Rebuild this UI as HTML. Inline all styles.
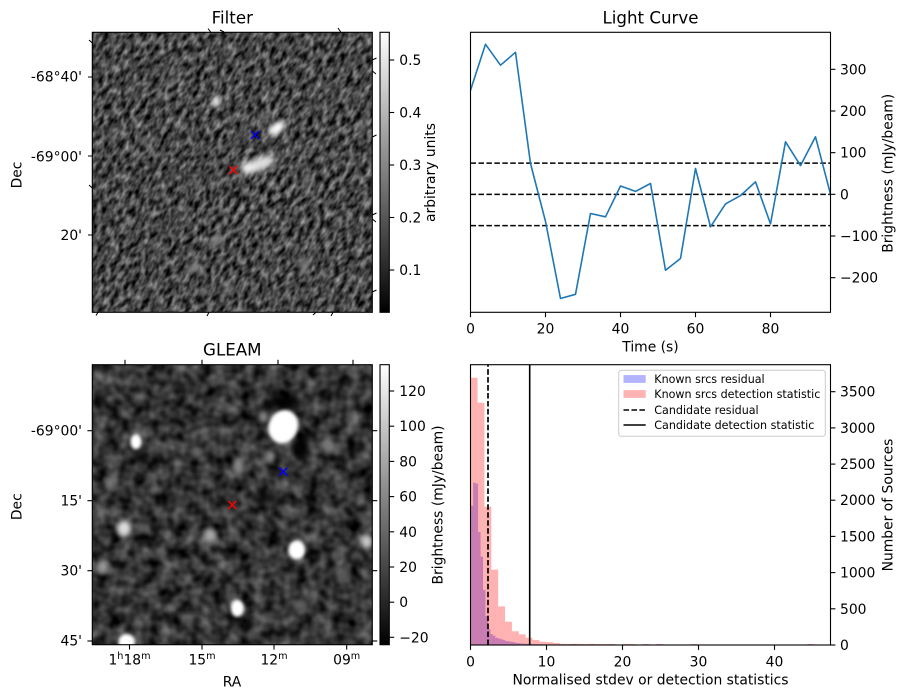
<!DOCTYPE html>
<html><head><meta charset="utf-8">
<style>
html,body{margin:0;padding:0;background:#fff;}
svg{display:block;}
text{font-family:"DejaVu Sans","Liberation Sans",sans-serif;fill:#000;}
</style></head>
<body>
<svg width="907" height="699" viewBox="0 0 907 699" xmlns="http://www.w3.org/2000/svg">
<defs>
  <clipPath id="clipF"><rect x="92.3" y="32.3" width="280" height="280"/></clipPath>
  <clipPath id="clipG"><rect x="92.3" y="364.7" width="280" height="280"/></clipPath>
  <clipPath id="clipL"><rect x="470.5" y="32.3" width="360" height="280"/></clipPath>
  <filter id="noiseF" x="0" y="0" width="1" height="1" color-interpolation-filters="sRGB">
    <feTurbulence type="fractalNoise" baseFrequency="0.11 0.2" numOctaves="2" seed="7"/>
    <feColorMatrix type="matrix" values="0.95 0 0 0 -0.2  0.95 0 0 0 -0.2  0.95 0 0 0 -0.2  0 0 0 0 1"/>
  </filter>
  <filter id="noiseG" x="0" y="0" width="1" height="1" color-interpolation-filters="sRGB">
    <feTurbulence type="fractalNoise" baseFrequency="0.075" numOctaves="2" seed="3"/>
    <feColorMatrix type="matrix" values="0.65 0 0 0 -0.12  0.65 0 0 0 -0.12  0.65 0 0 0 -0.12  0 0 0 0 1"/>
  </filter>
  <filter id="b1" x="-100%" y="-100%" width="300%" height="300%"><feGaussianBlur stdDeviation="1.6"/></filter>
  <filter id="b2" x="-100%" y="-100%" width="300%" height="300%"><feGaussianBlur stdDeviation="2.6"/></filter>
  <filter id="b4" x="-100%" y="-100%" width="300%" height="300%"><feGaussianBlur stdDeviation="4"/></filter>
  <linearGradient id="gray" x1="0" y1="1" x2="0" y2="0">
    <stop offset="0" stop-color="#000"/><stop offset="1" stop-color="#fff"/>
  </linearGradient>
</defs>

<!-- ================= FILTER PANEL ================= -->
<text x="232.3" y="23.5" font-size="16.67" text-anchor="middle">Filter</text>
<g clip-path="url(#clipF)">
  <rect x="92.3" y="32.3" width="280" height="280" fill="#454545"/>
  <g transform="rotate(-62 232 172)">
    <rect x="-20" y="-60" width="520" height="520" filter="url(#noiseF)"/>
  </g>
  <g filter="url(#b2)">
    <ellipse cx="216.7" cy="101.7" rx="3.5" ry="6.5" fill="#fff"/>
    <ellipse cx="276.7" cy="128.3" rx="10" ry="5" fill="#fff" transform="rotate(-30 276.7 128.3)"/>
    <ellipse cx="260" cy="164" rx="16" ry="6.5" fill="#ddd" transform="rotate(-20 260 164)"/>
    <ellipse cx="248" cy="168" rx="7" ry="6" fill="#eee"/>
    <ellipse cx="264" cy="117" rx="4" ry="3" fill="#999"/>
    <ellipse cx="216.7" cy="240" rx="4" ry="8" fill="#888" transform="rotate(25 216.7 240)"/>
    <ellipse cx="193" cy="268" rx="4" ry="7" fill="#808080" transform="rotate(30 193 268)"/>
    <ellipse cx="361.7" cy="126.7" rx="3" ry="5" fill="#888"/>
    <ellipse cx="173" cy="80" rx="3" ry="6" fill="#808080" transform="rotate(25 173 80)"/>
    <ellipse cx="143" cy="140" rx="3" ry="5" fill="#808080"/>
    <ellipse cx="306.7" cy="180" rx="3" ry="6" fill="#808080" transform="rotate(25 306.7 180)"/>
    <ellipse cx="305" cy="265" rx="4" ry="7" fill="#808080" transform="rotate(30 305 265)"/>
    <ellipse cx="230" cy="287" rx="3" ry="6" fill="#808080" transform="rotate(25 230 287)"/>
  </g>
</g>
<rect x="92.3" y="32.3" width="280" height="280" fill="none" stroke="#000" stroke-width="1.1"/>
<!-- tilted WCS ticks -->
<g stroke="#000" stroke-width="1">
  <line x1="208" y1="28.5" x2="211" y2="32.5"/><line x1="220" y1="30" x2="224" y2="32"/><line x1="338" y1="28" x2="341" y2="32.5"/>
  <line x1="96" y1="315.5" x2="98" y2="312.3"/><line x1="207" y1="316" x2="209" y2="312.3"/><line x1="313" y1="315" x2="316" y2="312.3"/><line x1="331" y1="316" x2="333" y2="312.3"/>
  <line x1="89" y1="40" x2="92.3" y2="43"/><line x1="88" y1="77" x2="92.3" y2="77"/><line x1="88" y1="156" x2="92.3" y2="156"/><line x1="89" y1="185" x2="92.3" y2="188"/><line x1="88" y1="235" x2="92.3" y2="235"/>
  <line x1="372.3" y1="60" x2="376.5" y2="58"/><line x1="372.3" y1="71" x2="376" y2="74"/><line x1="372.3" y1="137" x2="376.5" y2="135"/><line x1="372.3" y1="215" x2="376.5" y2="213"/><line x1="372.3" y1="219" x2="376" y2="222"/><line x1="372.3" y1="292" x2="376.5" y2="290"/>
</g>
<text x="82" y="81.7" font-size="13.89" text-anchor="end">-68°40'</text>
<text x="82" y="161.7" font-size="13.89" text-anchor="end">-69°00'</text>
<text x="82" y="240" font-size="13.89" text-anchor="end">20'</text>
<text transform="translate(21.7,175) rotate(-90)" font-size="13.89" text-anchor="middle">Dec</text>
<!-- markers -->
<g stroke-width="1.5">
  <path d="M229.3 166 L237.3 174 M229.3 174 L237.3 166" stroke="#ff0000"/>
  <path d="M251 131 L259 139 M251 139 L259 131" stroke="#0000ff"/>
</g>
<!-- colorbar -->
<rect x="380" y="32.3" width="9.3" height="280" fill="url(#gray)" stroke="#000" stroke-width="1.1"/>
<g stroke="#000" stroke-width="1.1">
  <line x1="389.3" y1="60" x2="394.2" y2="60"/><line x1="389.3" y1="112.5" x2="394.2" y2="112.5"/>
  <line x1="389.3" y1="165" x2="394.2" y2="165"/><line x1="389.3" y1="217.5" x2="394.2" y2="217.5"/>
  <line x1="389.3" y1="270" x2="394.2" y2="270"/>
</g>
<g font-size="13.89">
  <text x="399.3" y="65">0.5</text><text x="399.3" y="117.5">0.4</text><text x="399.3" y="170">0.3</text>
  <text x="399.3" y="222.5">0.2</text><text x="399.3" y="275">0.1</text>
</g>
<text transform="translate(435,172.5) rotate(-90)" font-size="13.89" text-anchor="middle">arbitrary units</text>

<!-- ================= LIGHT CURVE ================= -->
<text x="650.5" y="23.5" font-size="16.67" text-anchor="middle">Light Curve</text>
<g clip-path="url(#clipL)">
  <g stroke="#000" stroke-width="1.5" stroke-dasharray="5.55 2.4" fill="none">
    <line x1="470.5" y1="163.1" x2="830.5" y2="163.1"/>
    <line x1="470.5" y1="194.33" x2="830.5" y2="194.33"/>
    <line x1="470.5" y1="225.6" x2="830.5" y2="225.6"/>
  </g>
  <polyline fill="none" stroke="#1f77b4" stroke-width="1.6" stroke-linejoin="round" stroke-linecap="square"
   points="470.5,90.2 485.5,44.3 500.5,65.2 515.5,52.3 530.5,163.5 545.5,221.4 560.5,298.5 575.5,294.3 590.5,213.5 605.5,216.8 620.5,186 635.5,191.4 650.5,183.5 665.5,270.2 680.5,258.5 695.5,168.5 710.5,226.8 725.5,203.9 740.5,195.6 755.5,181.8 770.5,223.9 785.5,141.8 800.5,165.6 815.5,136.8 830.5,194.3"/>
</g>
<rect x="470.5" y="32.3" width="360" height="280" fill="none" stroke="#000" stroke-width="1.1"/>
<g stroke="#000" stroke-width="1.1">
  <line x1="470.5" y1="312.3" x2="470.5" y2="317.2"/><line x1="545.5" y1="312.3" x2="545.5" y2="317.2"/>
  <line x1="620.5" y1="312.3" x2="620.5" y2="317.2"/><line x1="695.5" y1="312.3" x2="695.5" y2="317.2"/>
  <line x1="770.5" y1="312.3" x2="770.5" y2="317.2"/>
  <line x1="830.5" y1="69.33" x2="835.4" y2="69.33"/><line x1="830.5" y1="111" x2="835.4" y2="111"/>
  <line x1="830.5" y1="152.67" x2="835.4" y2="152.67"/><line x1="830.5" y1="194.33" x2="835.4" y2="194.33"/>
  <line x1="830.5" y1="236" x2="835.4" y2="236"/><line x1="830.5" y1="277.67" x2="835.4" y2="277.67"/>
</g>
<g font-size="13.89" text-anchor="middle">
  <text x="470.5" y="333.3">0</text><text x="545.5" y="333.3">20</text><text x="620.5" y="333.3">40</text>
  <text x="695.5" y="333.3">60</text><text x="770.5" y="333.3">80</text>
</g>
<g font-size="13.89">
  <text x="840" y="74.3">300</text><text x="840" y="116">200</text><text x="840" y="157.7">100</text>
  <text x="840" y="199.3">0</text><text x="840" y="241">−100</text><text x="840" y="282.7">−200</text>
</g>
<text x="650.5" y="351.5" font-size="13.89" text-anchor="middle">Time (s)</text>
<text transform="translate(892.5,173.3) rotate(-90)" font-size="13.89" text-anchor="middle">Brightness (mJy/beam)</text>

<!-- ================= GLEAM ================= -->
<text x="232.3" y="355.5" font-size="16.67" text-anchor="middle">GLEAM</text>
<g clip-path="url(#clipG)">
  <rect x="92.3" y="364.7" width="280" height="280" fill="#333"/>
  <rect x="92.3" y="364.7" width="280" height="280" filter="url(#noiseG)"/>
  <!-- dark patches -->
  <g filter="url(#b4)" fill="#000">
    <ellipse cx="285" cy="402" rx="16" ry="8"/>
    <ellipse cx="302" cy="447" rx="7" ry="14"/>
    <ellipse cx="265" cy="410" rx="6" ry="7"/>
    <ellipse cx="143" cy="458" rx="8" ry="7" opacity="0.7"/>
    <ellipse cx="265" cy="498" rx="10" ry="8" opacity="0.7"/>
    <ellipse cx="243" cy="627" rx="8" ry="6" opacity="0.7"/>
    <ellipse cx="180" cy="500" rx="8" ry="6" opacity="0.5"/>
  </g>
  <!-- faint blobs -->
  <g filter="url(#b2)">
    <ellipse cx="263.3" cy="416.7" rx="5" ry="6" fill="#888"/>
    <ellipse cx="270" cy="456.7" rx="5" ry="6" fill="#888"/>
    <ellipse cx="238.3" cy="465" rx="5" ry="8" fill="#8a8a8a"/>
    <ellipse cx="328.3" cy="446.7" rx="6" ry="7" fill="#777"/>
    <ellipse cx="110" cy="483.3" rx="5" ry="7" fill="#777"/>
    <ellipse cx="141.7" cy="528.3" rx="4" ry="5" fill="#666"/>
    <ellipse cx="196.7" cy="451.7" rx="6" ry="6" fill="#666"/>
    <ellipse cx="300" cy="605" rx="7" ry="6" fill="#5e5e5e"/>
    <ellipse cx="343" cy="575" rx="6" ry="6" fill="#5a5a5a"/>
    <ellipse cx="102.7" cy="566.7" rx="6" ry="7" fill="#999"/>
    <ellipse cx="210" cy="535" rx="6" ry="7" fill="#aaa"/>
    <ellipse cx="366.7" cy="541.7" rx="6" ry="7" fill="#ccc"/>
    <ellipse cx="124" cy="528.3" rx="7" ry="8" fill="#ddd"/>
  </g>
  <!-- bright blobs -->
  <g filter="url(#b1)" fill="#fff">
    <ellipse cx="283.3" cy="426.7" rx="14.5" ry="17" transform="rotate(20 283.3 426.7)"/>
    <ellipse cx="136" cy="441.7" rx="5.5" ry="7.5"/>
    <ellipse cx="296.7" cy="550" rx="8.5" ry="9.5"/>
    <ellipse cx="237.3" cy="608.3" rx="6.5" ry="8.5"/>
    <ellipse cx="126.7" cy="642" rx="8.5" ry="8"/>
  </g>
</g>
<rect x="92.3" y="364.7" width="280" height="280" fill="none" stroke="#000" stroke-width="1.1"/>
<g stroke="#000" stroke-width="1.1">
  <line x1="125" y1="364.7" x2="125" y2="359.8"/><line x1="202" y1="364.7" x2="202" y2="359.8"/>
  <line x1="278" y1="364.7" x2="278" y2="359.8"/><line x1="353" y1="364.7" x2="353" y2="359.8"/>
  <line x1="129.5" y1="644.7" x2="129.5" y2="649.6"/><line x1="202" y1="644.7" x2="202" y2="649.6"/>
  <line x1="274" y1="644.7" x2="274" y2="649.6"/><line x1="346.7" y1="644.7" x2="346.7" y2="649.6"/>
  <line x1="92.3" y1="430.7" x2="87.4" y2="430.7"/><line x1="92.3" y1="500.7" x2="87.4" y2="500.7"/>
  <line x1="92.3" y1="570.7" x2="87.4" y2="570.7"/><line x1="92.3" y1="641" x2="87.4" y2="641"/>
  <line x1="372.3" y1="430.7" x2="377.2" y2="430.7"/><line x1="372.3" y1="500.7" x2="377.2" y2="500.7"/>
  <line x1="372.3" y1="570.7" x2="377.2" y2="570.7"/><line x1="372.3" y1="641" x2="377.2" y2="641"/>
</g>
<g font-size="13.89" text-anchor="end">
  <text x="82" y="435.5">-69°00'</text><text x="82" y="505.5">15'</text>
  <text x="82" y="575.5">30'</text><text x="82" y="645.5">45'</text>
</g>
<g font-size="13.89" text-anchor="middle">
  <text x="129.5" y="664.3">1<tspan font-size="9.7" dy="-5.5">h</tspan><tspan dy="5.5">18</tspan><tspan font-size="9.7" dy="-5.5">m</tspan></text>
  <text x="202" y="664.3">15<tspan font-size="9.7" dy="-5.5">m</tspan></text>
  <text x="274" y="664.3">12<tspan font-size="9.7" dy="-5.5">m</tspan></text>
  <text x="346.7" y="664.3">09<tspan font-size="9.7" dy="-5.5">m</tspan></text>
</g>
<text x="232" y="686.5" font-size="13.89" text-anchor="middle">RA</text>
<text transform="translate(21.7,506.7) rotate(-90)" font-size="13.89" text-anchor="middle">Dec</text>
<g stroke-width="1.5">
  <path d="M228.3 501 L236.3 509 M228.3 509 L236.3 501" stroke="#ff0000"/>
  <path d="M279.3 467.7 L287.3 475.7 M279.3 475.7 L287.3 467.7" stroke="#0000ff"/>
</g>
<!-- colorbar -->
<rect x="380" y="364.7" width="9.3" height="280" fill="url(#gray)" stroke="#000" stroke-width="1.1"/>
<g stroke="#000" stroke-width="1.1">
  <line x1="389.3" y1="391" x2="394.2" y2="391"/><line x1="389.3" y1="426.2" x2="394.2" y2="426.2"/>
  <line x1="389.3" y1="461.4" x2="394.2" y2="461.4"/><line x1="389.3" y1="496.6" x2="394.2" y2="496.6"/>
  <line x1="389.3" y1="531.8" x2="394.2" y2="531.8"/><line x1="389.3" y1="567" x2="394.2" y2="567"/>
  <line x1="389.3" y1="602.2" x2="394.2" y2="602.2"/><line x1="389.3" y1="637.3" x2="394.2" y2="637.3"/>
</g>
<g font-size="13.89">
  <text x="399.3" y="396">120</text><text x="399.3" y="431.2">100</text><text x="399.3" y="466.4">80</text>
  <text x="399.3" y="501.6">60</text><text x="399.3" y="536.8">40</text><text x="399.3" y="572">20</text>
  <text x="399.3" y="607.2">0</text><text x="399.3" y="642.3">−20</text>
</g>
<text transform="translate(442.5,505) rotate(-90)" font-size="13.89" text-anchor="middle">Brightness (mJy/beam)</text>

<!-- ================= HISTOGRAM ================= -->
<g fill="#0000ff" fill-opacity="0.3">
  <rect x="470.7" y="505.7" width="2.46" height="139.3"/>
  <rect x="473.16" y="482.65" width="2.46" height="162.35"/>
  <rect x="475.62" y="483.6" width="2.46" height="161.4"/>
  <rect x="478.08" y="532" width="2.46" height="113"/>
  <rect x="480.54" y="556.7" width="2.46" height="88.3"/>
  <rect x="483" y="590" width="2.46" height="55"/>
  <rect x="485.46" y="616.05" width="2.46" height="28.95"/>
  <rect x="487.92" y="629.1" width="2.46" height="15.9"/>
  <rect x="490.38" y="634.14" width="2.46" height="10.86"/>
  <rect x="492.84" y="635.59" width="2.46" height="9.41"/>
  <rect x="495.3" y="637.76" width="2.46" height="7.24"/>
  <rect x="497.76" y="638.49" width="2.46" height="6.51"/>
  <rect x="500.22" y="639.21" width="2.46" height="5.79"/>
  <rect x="502.68" y="639.93" width="2.46" height="5.07"/>
  <rect x="505.14" y="641.02" width="2.46" height="3.98"/>
  <rect x="507.6" y="641.38" width="2.46" height="3.62"/>
  <rect x="510.06" y="641.74" width="2.46" height="3.26"/>
  <rect x="512.52" y="642.1" width="2.46" height="2.9"/>
  <rect x="514.98" y="642.83" width="2.46" height="2.17"/>
  <rect x="517.44" y="643.19" width="2.46" height="1.81"/>
  <rect x="519.9" y="643.41" width="2.46" height="1.59"/>
  <rect x="522.36" y="643.55" width="2.46" height="1.45"/>
  <rect x="524.82" y="643.7" width="2.46" height="1.3"/>
  <rect x="527.28" y="643.9" width="2.46" height="1.1"/>
  <rect x="529.74" y="644" width="2.46" height="1"/>
  <rect x="532.2" y="644.1" width="2.46" height="0.9"/>
  <rect x="534.66" y="644.2" width="2.46" height="0.8"/>
  <rect x="537.12" y="644.2" width="2.46" height="0.8"/>
  <rect x="539.58" y="644.3" width="7.38" height="0.7"/>
  <rect x="569.1" y="644.2" width="7.38" height="0.8"/>
  <rect x="581.4" y="644.2" width="2.46" height="0.8"/>
  <rect x="591.24" y="644.2" width="2.46" height="0.8"/>
</g>
<g fill="#ff0000" fill-opacity="0.3">
  <rect x="470.7" y="377.7" width="6.87" height="267.3"/>
  <rect x="477.57" y="402.7" width="6.87" height="242.3"/>
  <rect x="484.44" y="506.7" width="6.87" height="138.3"/>
  <rect x="491.31" y="569.7" width="6.87" height="75.3"/>
  <rect x="498.18" y="606.4" width="6.87" height="38.6"/>
  <rect x="505.05" y="621.7" width="6.87" height="23.3"/>
  <rect x="511.92" y="631.25" width="6.87" height="13.75"/>
  <rect x="518.79" y="634.36" width="6.87" height="10.64"/>
  <rect x="525.66" y="637.76" width="6.87" height="7.24"/>
  <rect x="532.53" y="639.93" width="6.87" height="5.07"/>
  <rect x="539.4" y="641.74" width="6.87" height="3.26"/>
  <rect x="546.27" y="642.1" width="6.87" height="2.9"/>
  <rect x="553.14" y="642.97" width="6.87" height="2.03"/>
  <rect x="560.01" y="643.8" width="6.87" height="1.2"/>
  <rect x="566.88" y="644" width="6.87" height="1"/>
  <rect x="573.75" y="643.8" width="6.87" height="1.2"/>
  <rect x="580.62" y="644.1" width="6.87" height="0.9"/>
  <rect x="587.49" y="643.9" width="6.87" height="1.1"/>
  <rect x="594.36" y="644" width="6.87" height="1"/>
  <rect x="601.23" y="644.1" width="6.87" height="0.9"/>
  <rect x="608.1" y="644" width="6.87" height="1"/>
  <rect x="621.84" y="644" width="13.74" height="1"/>
  <rect x="642.45" y="644" width="6.87" height="1"/>
  <rect x="656.19" y="644" width="6.87" height="1"/>
  <rect x="690.54" y="644" width="6.87" height="1"/>
  <rect x="807.33" y="644" width="6.87" height="1"/>
</g>
<line x1="488" y1="645" x2="488" y2="364.7" stroke="#000" stroke-width="1.7" stroke-dasharray="5.55 2.4"/>
<line x1="529.7" y1="645" x2="529.7" y2="364.7" stroke="#000" stroke-width="1.6"/>
<rect x="470.5" y="364.7" width="360" height="280.3" fill="none" stroke="#000" stroke-width="1.1"/>
<g stroke="#000" stroke-width="1.1">
  <line x1="470.5" y1="645" x2="470.5" y2="649.9"/><line x1="546.5" y1="645" x2="546.5" y2="649.9"/>
  <line x1="622.5" y1="645" x2="622.5" y2="649.9"/><line x1="698.5" y1="645" x2="698.5" y2="649.9"/>
  <line x1="774.5" y1="645" x2="774.5" y2="649.9"/>
  <line x1="830.5" y1="645" x2="835.4" y2="645"/><line x1="830.5" y1="608.8" x2="835.4" y2="608.8"/>
  <line x1="830.5" y1="572.6" x2="835.4" y2="572.6"/><line x1="830.5" y1="536.4" x2="835.4" y2="536.4"/>
  <line x1="830.5" y1="500.2" x2="835.4" y2="500.2"/><line x1="830.5" y1="464.1" x2="835.4" y2="464.1"/>
  <line x1="830.5" y1="427.9" x2="835.4" y2="427.9"/><line x1="830.5" y1="391.7" x2="835.4" y2="391.7"/>
</g>
<g font-size="13.89" text-anchor="middle">
  <text x="470.5" y="666.3">0</text><text x="546.5" y="666.3">10</text><text x="622.5" y="666.3">20</text>
  <text x="698.5" y="666.3">30</text><text x="774.5" y="666.3">40</text>
</g>
<g font-size="13.89">
  <text x="840" y="650">0</text><text x="840" y="613.8">500</text><text x="840" y="577.6">1000</text>
  <text x="840" y="541.4">1500</text><text x="840" y="505.2">2000</text><text x="840" y="469.1">2500</text>
  <text x="840" y="432.9">3000</text><text x="840" y="396.7">3500</text>
</g>
<text x="650.5" y="684.5" font-size="13.89" text-anchor="middle">Normalised stdev or detection statistics</text>
<text transform="translate(892.3,505) rotate(-90)" font-size="13.89" text-anchor="middle">Number of Sources</text>
<!-- legend -->
<rect x="618.7" y="370.3" width="206.6" height="66" rx="2.8" ry="2.8" fill="#fff" fill-opacity="0.8" stroke="#cccccc" stroke-width="1"/>
<rect x="623.5" y="375.1" width="22.2" height="7.8" fill="#b3b3ff"/>
<rect x="623.5" y="390.1" width="22.2" height="7.8" fill="#ffb3b3"/>
<line x1="623.5" y1="410" x2="645.7" y2="410" stroke="#000" stroke-width="1.5" stroke-dasharray="5.55 2.4"/>
<line x1="623.5" y1="425" x2="645.7" y2="425" stroke="#000" stroke-width="1.5"/>
<g font-size="11.11">
  <text x="654.3" y="383.1">Known srcs residual</text>
  <text x="654.3" y="398.1">Known srcs detection statistic</text>
  <text x="654.3" y="414">Candidate residual</text>
  <text x="654.3" y="429">Candidate detection statistic</text>
</g>
</svg>
</body></html>
